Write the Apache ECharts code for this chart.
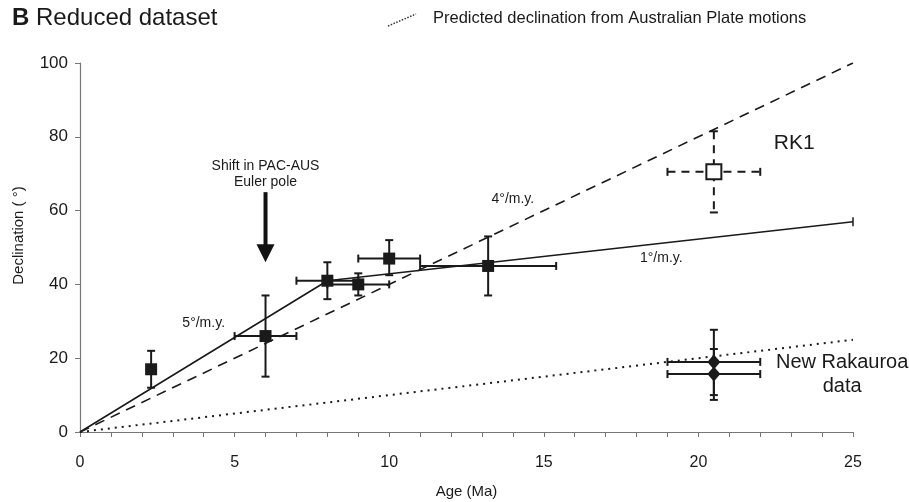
<!DOCTYPE html>
<html>
<head>
<meta charset="utf-8">
<script src="https://cdn.jsdelivr.net/npm/echarts@6/dist/echarts.min.js"></script>
<style>
  html, body { margin: 0; padding: 0; background: #fff; }
  #main { width: 909px; height: 502px; }
</style>
</head>
<body>
<div id="main"></div>
<script>
// 数据：年龄 (Ma) 与偏角 (°)
// [age, decl, ageLo, ageHi, declLo, declHi]
var reducedData = [
  [2.3, 17, 2.3, 2.3, 12, 22],
  [6.0, 26, 5.0, 7.0, 15, 37],
  [8.0, 41, 7.0, 9.0, 36, 46],
  [9.0, 40, 8.0, 10.0, 37, 43],
  [10.0, 47, 9.0, 11.0, 42.5, 52],
  [13.2, 45, 11.0, 15.4, 37, 53]
];
var rk1Data = [
  [20.5, 70.5, 19.0, 22.0, 59.5, 81.5]
];
var rakauroaData = [
  [20.5, 19.0, 19.0, 22.0, 10.0, 27.7],
  [20.5, 15.7, 19.0, 22.0, 8.7, 22.5]
];
// 拟合线
var fitLine = [[0, 0], [8, 41], [25, 57]];
var rate4Line = [[0, 0], [25, 100]];
var australianLine = [[0, 0], [25, 25]];
// 箭头（欧拉极变化）
var arrowPts = [[6, 65], [6, 46]];
// 注释文字（数据坐标）
var notes = [
  [6, 69.8, 'Shift in PAC-AUS\nEuler pole'],
  [4.0, 29.5, '5°/m.y.'],
  [14.0, 63.1, '4°/m.y.'],
  [18.8, 47.2, '1°/m.y.'],
  [23.1, 78.3, 'RK1'],
  [24.65, 15.7, 'New Rakauroa\ndata']
];

var xTicks = [0, 5, 10, 15, 20, 25];
var yTicks = [0, 20, 40, 60, 80, 100];

var sans = '"Liberation Sans", Arial, sans-serif';

var myChart = echarts.init(document.getElementById('main'));

function errorBars(dashed) {
  return function (params, api) {
    var x = api.value(0), y = api.value(1);
    var c = api.coord([x, y]);
    var l = api.coord([api.value(2), y]);
    var r = api.coord([api.value(3), y]);
    var t = api.coord([x, api.value(5)]);
    var b = api.coord([x, api.value(4)]);
    var cap = 4;
    var st = { stroke: '#1a1a1a', lineWidth: 2, lineDash: dashed ? [8, 6] : null };
    var capSt = { stroke: '#1a1a1a', lineWidth: 2 };
    var kids = [
      { type: 'line', shape: { x1: c[0], y1: t[1], x2: c[0], y2: b[1] }, style: st },
      { type: 'line', shape: { x1: c[0] - cap, y1: t[1], x2: c[0] + cap, y2: t[1] }, style: capSt },
      { type: 'line', shape: { x1: c[0] - cap, y1: b[1], x2: c[0] + cap, y2: b[1] }, style: capSt }
    ];
    if (r[0] - l[0] > 1) {
      kids.push(
        { type: 'line', shape: { x1: l[0], y1: c[1], x2: r[0], y2: c[1] }, style: st },
        { type: 'line', shape: { x1: l[0], y1: c[1] - cap, x2: l[0], y2: c[1] + cap }, style: capSt },
        { type: 'line', shape: { x1: r[0], y1: c[1] - cap, x2: r[0], y2: c[1] + cap }, style: capSt }
      );
    }
    return { type: 'group', children: kids };
  };
}

// 注释字号（按索引）
var noteStyle = [
  { size: 14, lh: 16 },
  { size: 14, lh: 16 },
  { size: 14, lh: 16 },
  { size: 14, lh: 16 },
  { size: 21, lh: 24 },
  { size: 20, lh: 24 }
];

var option = {
  animation: false,
  backgroundColor: '#fff',
  graphic: [
    { type: 'text', x: 12, y: 18,
      style: { text: 'B', font: 'bold 24px ' + sans, fill: '#1a1a1a', verticalAlign: 'middle' } },
    { type: 'text', x: 36, y: 18,
      style: { text: 'Reduced dataset', font: '24px ' + sans, fill: '#1a1a1a', verticalAlign: 'middle' } },
    { type: 'line', shape: { x1: 388, y1: 26, x2: 416, y2: 14 },
      style: { stroke: '#333', lineWidth: 1.5, lineDash: [1.5, 1.5] } },
    { type: 'text', x: 433, y: 18,
      style: { text: 'Predicted declination from Australian Plate motions',
        font: '16.5px ' + sans, fill: '#1a1a1a', verticalAlign: 'middle' } }
  ],
  grid: { left: 80, right: 56, top: 63, bottom: 70, outerBoundsMode: 'none' },
  xAxis: {
    type: 'value', min: 0, max: 25, interval: 5,
    name: 'Age (Ma)', nameLocation: 'middle', nameGap: 52,
    nameTextStyle: { fontFamily: sans, fontSize: 15, color: '#1a1a1a' },
    axisLine: { lineStyle: { color: '#777', width: 1.2 } },
    axisTick: { length: 5, lineStyle: { color: '#777' } },
    minorTick: { show: true, splitNumber: 5, length: 5, lineStyle: { color: '#777' } },
    splitLine: { show: false },
    axisLabel: { fontFamily: sans, fontSize: 16, color: '#1a1a1a', margin: 23 }
  },
  yAxis: {
    type: 'value', min: 0, max: 100, interval: 20,
    name: 'Declination ( °)', nameLocation: 'middle', nameGap: 54, nameRotate: 90,
    nameTextStyle: { fontFamily: sans, fontSize: 15, color: '#1a1a1a', padding: [0, 0, 0, 24] },
    axisLine: { show: true, lineStyle: { color: '#777', width: 1.2 } },
    axisTick: { show: true, length: 5, lineStyle: { color: '#777' } },
    splitLine: { show: false },
    axisLabel: { fontFamily: sans, fontSize: 17, color: '#1a1a1a', margin: 12 }
  },
  series: [
    {
      type: 'line', data: australianLine, showSymbol: false, z: 1,
      lineStyle: { color: '#1a1a1a', width: 2, type: [2, 5] }
    },
    {
      type: 'line', data: rate4Line, showSymbol: false, z: 1,
      lineStyle: { color: '#1a1a1a', width: 1.6, type: [10, 7] }
    },
    {
      type: 'line', z: 2,
      data: fitLine.map(function (p, i) {
        return i === fitLine.length - 1
          ? { value: p, symbol: 'rect', symbolSize: [1.5, 9], itemStyle: { color: '#1a1a1a' } }
          : { value: p, symbol: 'none' };
      }),
      lineStyle: { color: '#1a1a1a', width: 1.6 }
    },
    { type: 'custom', renderItem: errorBars(false), data: reducedData, z: 3 },
    { type: 'custom', renderItem: errorBars(true), data: rk1Data, z: 3 },
    { type: 'custom', renderItem: errorBars(false), data: rakauroaData, z: 3 },
    {
      type: 'scatter', data: reducedData.map(function (d) { return [d[0], d[1]]; }),
      symbol: 'rect', symbolSize: 12, z: 5, itemStyle: { color: '#1a1a1a', opacity: 1 }
    },
    {
      type: 'scatter', data: rk1Data.map(function (d) { return [d[0], d[1]]; }),
      symbol: 'rect', symbolSize: 15, z: 5,
      itemStyle: { color: '#fff', borderColor: '#1a1a1a', borderWidth: 2, opacity: 1 }
    },
    {
      type: 'scatter', data: rakauroaData.map(function (d) { return [d[0], d[1]]; }),
      symbol: 'diamond', symbolSize: [13, 15], z: 5, itemStyle: { color: '#1a1a1a', opacity: 1 }
    },
    {
      type: 'custom', data: arrowPts.slice(0, 1), z: 4,
      renderItem: function (params, api) {
        var a = api.coord(arrowPts[0]);
        var b = api.coord(arrowPts[1]);
        var hl = 18, hw = 9;
        return {
          type: 'group', children: [
            { type: 'line', shape: { x1: a[0], y1: a[1], x2: b[0], y2: b[1] - hl + 2 },
              style: { stroke: '#111', lineWidth: 4 } },
            { type: 'polygon', shape: { points: [[b[0] - hw, b[1] - hl], [b[0] + hw, b[1] - hl], [b[0], b[1]]] },
              style: { fill: '#111' } }
          ]
        };
      }
    },
    {
      type: 'custom', data: notes, z: 6, silent: true,
      renderItem: function (params, api) {
        var p = api.coord([api.value(0), api.value(1)]);
        var s = noteStyle[params.dataIndex];
        return {
          type: 'text', x: p[0], y: p[1],
          style: {
            text: notes[params.dataIndex][2],
            font: s.size + 'px ' + sans, lineHeight: s.lh,
            fill: '#1a1a1a', align: 'center', verticalAlign: 'middle'
          }
        };
      }
    }
  ]
};

myChart.setOption(option);
</script>
</body>
</html>
